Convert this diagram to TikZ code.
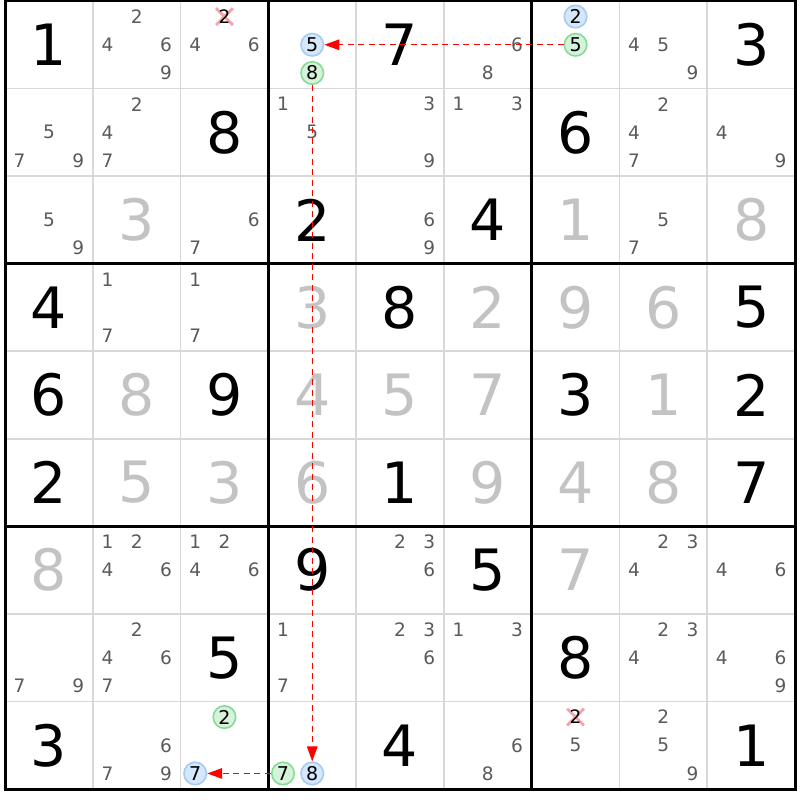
\documentclass[tikz,border=0pt]{standalone}
\usepackage{fontspec}
\setmainfont{DejaVu Sans}
\usetikzlibrary{arrows.meta,shapes.misc}
\definecolor{thinline}{HTML}{D8D8D8}
\definecolor{candc}{HTML}{5A5A5A}
\definecolor{solvedc}{HTML}{C3C3C3}
\definecolor{bfill}{HTML}{D5E7FB}
\definecolor{bline}{HTML}{A6CBF2}
\definecolor{gfill}{HTML}{D5F3DA}
\definecolor{gline}{HTML}{86DB96}
\definecolor{xred}{HTML}{F2A3AB}
\definecolor{arrred}{HTML}{FF0000}
\def\cw{87.78}\def\ch{87.56}
\newcommand\Gv[3]{\node[given] (g#1#2) at ({5+(#2-0.5)*\cw},{-(1+(#1-0.5)*\ch)}) {#3};}
\newcommand\Sv[3]{\node[solvedd] (s#1#2) at ({5+(#2-0.5)*\cw},{-(1+(#1-0.5)*\ch)}) {#3};}
\newcommand\Cd[3]{\foreach \d in {#3}{\node[cand] (c#1#2-\d) at ({5+(#2-0.5+(mod(\d-1,3)-1)/3)*\cw},{-(1+(#1-0.5+(floor((\d-1)/3)-1)*0.322)*\ch)}) {\d};}}
% circled candidate: row, col, digit, style, name
\newcommand\Cc[5]{\node[#4] (#5) at ({5+(#2-0.5+(mod(#3-1,3)-1)/3)*\cw},{-(1+(#1-0.5+(floor((#3-1)/3)-1)*0.322)*\ch)}) {#3};}
% crossed candidate: row, col, digit
\newcommand\Cx[3]{\node[xmark] (x#1#2) at ({5+(#2-0.5+(mod(#3-1,3)-1)/3)*\cw},{-(1+(#1-0.5+(floor((#3-1)/3)-1)*0.322)*\ch)}) {};
\node[candk] (c#1#2-#3) at (x#1#2) {#3};}
\begin{document}
\begin{tikzpicture}[x=1pt,y=1pt,
  given/.style={inner sep=0pt,text=black,font=\fontsize{57}{60}\selectfont},
  solvedd/.style={inner sep=0pt,text=solvedc,font=\fontsize{57}{60}\selectfont},
  cand/.style={inner sep=0pt,text=candc,font=\fontsize{18.5}{20}\selectfont},
  candk/.style={inner sep=0pt,text=black,font=\fontsize{18.5}{20}\selectfont},
  bluec/.style={circle,draw=bline,fill=bfill,line width=1.6pt,minimum size=22.5pt,inner sep=0pt,text=black,font=\fontsize{19}{20}\selectfont},
  greenc/.style={circle,draw=gline,fill=gfill,line width=1.6pt,minimum size=22.5pt,inner sep=0pt,text=black,font=\fontsize{19}{20}\selectfont},
  xmark/.style={cross out,draw=xred,line width=2.8pt,minimum width=14pt,minimum height=14pt,inner sep=0pt},
  arr/.style={draw=arrred,line width=1.4pt,dash pattern=on 6pt off 4.5pt,-{Triangle[length=15pt,width=10.5pt]}},
]
\useasboundingbox (0,0) rectangle (800,-800);
\fill[white] (0,0) rectangle (800,-800);
% thin grid
\foreach \k in {1,2,4,5,7,8}{
  \draw[thinline,line width=1.8pt] ({5+\k*\cw},-1) -- ({5+\k*\cw},{-(1+9*\ch)});
  \draw[thinline,line width=1.8pt] (5,{-(1+\k*\ch)}) -- ({5+9*\cw},{-(1+\k*\ch)});
}
\foreach \k in {0,3,6,9}{
  \draw[black,line width=3pt] ({5+\k*\cw},0.5) -- ({5+\k*\cw},{-(2.5+9*\ch)});
  \draw[black,line width=3pt] (3.5,{-(1+\k*\ch)}) -- ({6.5+9*\cw},{-(1+\k*\ch)});
}
% row 1
\Gv{1}{1}{1} \Cd{1}{2}{2,4,6,9} \Cx{1}{3}{2} \Cd{1}{3}{4,6}
\Cc{1}{4}{5}{bluec}{b14} \Cc{1}{4}{8}{greenc}{gr14}
\Gv{1}{5}{7} \Cd{1}{6}{6,8}
\Cc{1}{7}{2}{bluec}{b17} \Cc{1}{7}{5}{greenc}{gr17}
\Cd{1}{8}{4,5,9} \Gv{1}{9}{3}
% row 2
\Cd{2}{1}{5,7,9} \Cd{2}{2}{2,4,7} \Gv{2}{3}{8} \Cd{2}{4}{1,5} \Cd{2}{5}{3,9}
\Cd{2}{6}{1,3} \Gv{2}{7}{6} \Cd{2}{8}{2,4,7} \Cd{2}{9}{4,9}
% row 3
\Cd{3}{1}{5,9} \Sv{3}{2}{3} \Cd{3}{3}{6,7} \Gv{3}{4}{2} \Cd{3}{5}{6,9}
\Gv{3}{6}{4} \Sv{3}{7}{1} \Cd{3}{8}{5,7} \Sv{3}{9}{8}
% row 4
\Gv{4}{1}{4} \Cd{4}{2}{1,7} \Cd{4}{3}{1,7} \Sv{4}{4}{3} \Gv{4}{5}{8}
\Sv{4}{6}{2} \Sv{4}{7}{9} \Sv{4}{8}{6} \Gv{4}{9}{5}
% row 5
\Gv{5}{1}{6} \Sv{5}{2}{8} \Gv{5}{3}{9} \Sv{5}{4}{4} \Sv{5}{5}{5}
\Sv{5}{6}{7} \Gv{5}{7}{3} \Sv{5}{8}{1} \Gv{5}{9}{2}
% row 6
\Gv{6}{1}{2} \Sv{6}{2}{5} \Sv{6}{3}{3} \Sv{6}{4}{6} \Gv{6}{5}{1}
\Sv{6}{6}{9} \Sv{6}{7}{4} \Sv{6}{8}{8} \Gv{6}{9}{7}
% row 7
\Sv{7}{1}{8} \Cd{7}{2}{1,2,4,6} \Cd{7}{3}{1,2,4,6} \Gv{7}{4}{9} \Cd{7}{5}{2,3,6}
\Gv{7}{6}{5} \Sv{7}{7}{7} \Cd{7}{8}{2,3,4} \Cd{7}{9}{4,6}
% row 8
\Cd{8}{1}{7,9} \Cd{8}{2}{2,4,6,7} \Gv{8}{3}{5} \Cd{8}{4}{1,7} \Cd{8}{5}{2,3,6}
\Cd{8}{6}{1,3} \Gv{8}{7}{8} \Cd{8}{8}{2,3,4} \Cd{8}{9}{4,6,9}
% row 9
\Gv{9}{1}{3} \Cd{9}{2}{6,7,9}
\Cc{9}{3}{2}{greenc}{gr93} \Cc{9}{3}{7}{bluec}{b93}
\Cc{9}{4}{7}{greenc}{gr94} \Cc{9}{4}{8}{bluec}{b94}
\Gv{9}{5}{4} \Cd{9}{6}{6,8}
\Cx{9}{7}{2} \Cd{9}{7}{5}
\Cd{9}{8}{2,5,9} \Gv{9}{9}{1}
% arrows
\draw[arr] (gr17) -- (b14);
\draw[arr] (gr14) -- (b94);
\draw[arr] (gr94) -- (b93);
\end{tikzpicture}
\end{document}
